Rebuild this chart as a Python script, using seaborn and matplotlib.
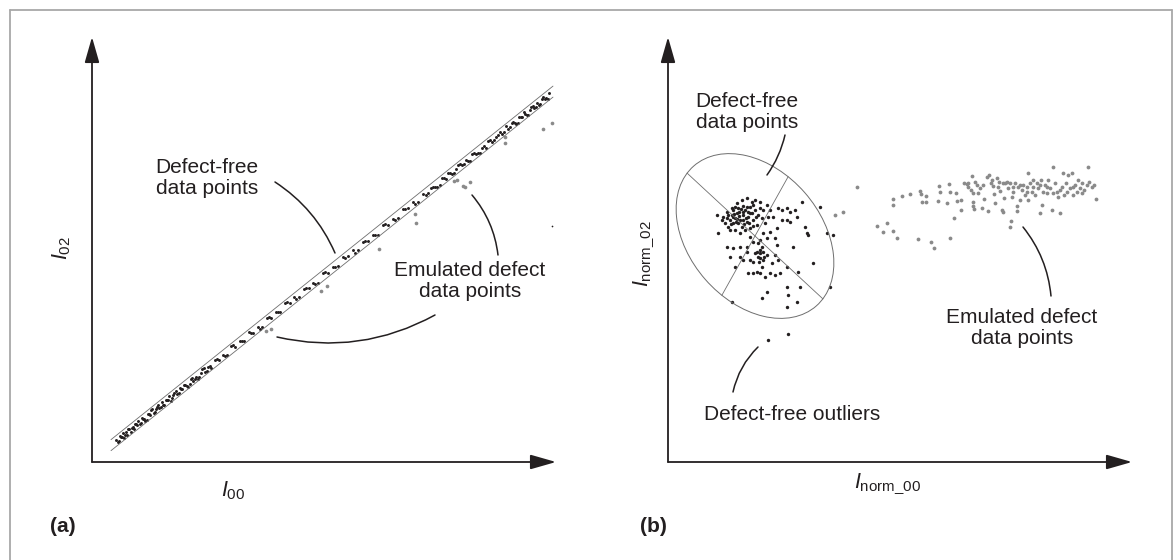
import numpy as np
import matplotlib
matplotlib.use("Agg")
import matplotlib.pyplot as plt
import seaborn as sns
from matplotlib.patches import Ellipse
from matplotlib.lines import Line2D

# ---------------- data (arbitrary units) ----------------
# panel (a): I00 vs I02, defect-free points along the band
a_free_x1 = [24, 27, 29, 31, 33, 35, 37, 40, 42, 44, 46, 49, 51, 53, 56, 58, 60, 63, 65, 67,
             70, 72, 75, 77, 80, 82, 85, 88, 90, 93, 96, 99, 101, 104, 107, 110, 113, 116, 119,
             123, 127, 131, 135, 139, 143, 148, 152, 157, 161, 166, 170, 175, 179, 184, 188, 193,
             198, 202, 207, 212, 217, 221, 226, 231, 236, 241, 246, 251, 256, 261, 266, 271, 276,
             281, 286, 291, 296, 301, 306, 311, 316, 321, 326,
             331, 336, 341, 345, 350, 354, 358, 362, 366, 370, 374, 378, 382, 386, 390, 394, 398,
             402, 406, 410, 414, 418, 421, 424, 427, 430, 433, 436, 439, 442, 445, 448, 451, 454, 457]
a_free_y1 = [22.3, 21.2, 25.3, 29.4, 27.0, 26.6, 33.2, 33.6, 32.7, 37.8, 40.9, 39.3, 42.9, 41.0,
             48.4, 47.5, 52.6, 50.0, 54.6, 54.2, 60.1, 56.7, 62.1, 66.2, 64.1, 68.7, 67.6, 74.0,
             73.1, 77.0, 75.4, 83.3, 81.4, 85.3, 85.2, 92.6, 90.5, 95.4, 94.3,
             102.0, 102.2, 106.9, 107.1, 115.8, 115.5, 121.5, 121.2, 129.7, 128.9, 134.9, 134.6,
             143.6, 143.8, 149.8, 150.0, 159.0, 159.5, 164.7, 164.7, 173.2, 174.2, 178.9, 179.4,
             188.9, 188.9, 195.4, 196.4, 205.4, 205.9, 211.9, 211.9, 220.4, 221.4, 226.9, 227.4,
             236.9, 236.9, 243.4, 244.4, 253.4, 253.9, 259.9, 259.9,
             268.4, 269.4, 274.9, 274.6, 284.1, 283.3, 289.0, 289.2, 297.4, 297.1, 302.3, 301.5,
             309.2, 309.4, 314.1, 313.8, 322.5, 321.7, 327.4, 327.6, 335.8, 335.5, 339.9, 338.3,
             345.2, 344.6, 348.5, 347.4, 355.3, 353.7, 358.6, 358.0, 365.4, 364.3, 368.7]
a_free_x2 = [25.5, 28, 30, 32, 34, 36, 38.5, 41, 43, 45, 47.5, 50, 52, 54.5, 57, 59, 61.5, 64,
             66, 68.5, 71, 73.5, 76, 78.5, 81, 83.5, 86.5, 89, 91.5, 94.5, 97.5, 100, 102.5,
             105.5, 108.5, 111.5, 114.5, 117.5,
             125, 133, 141, 150, 159, 168, 177, 186, 195, 204, 214, 223, 233, 243, 253, 263, 273,
             283, 293, 303, 313, 323,
             333.5, 338.5, 343, 347.5, 352, 356, 360, 364, 368, 372, 376, 380, 384, 388, 392, 396,
             400, 404, 408, 412, 416, 419.5, 422.5, 425.5, 428.5, 431.5, 434.5, 437.5, 440.5,
             443.5, 446.5, 449.5, 452.5, 455.5]
a_free_y2 = [20.5, 26.0, 25.1, 24.2, 29.8, 33.4, 30.4, 34.9, 38.5, 36.6, 38.1, 43.6, 42.7, 42.2,
             48.2, 51.8, 48.8, 53.3, 56.9, 55.4, 56.9, 62.4, 61.9, 61.4, 67.4, 71.4, 68.8, 73.3,
             77.3, 76.2, 78.1, 83.6, 83.1, 83.0, 89.4, 93.8, 91.2, 96.1,
             102.6, 106.0, 116.9, 120.6, 129.3, 133.5, 144.7, 149.9, 159.6, 163.3, 173.8, 178.0,
             190.5, 195.0, 204.5, 209.5, 221.5, 227.5, 238.0, 242.5, 253.0, 258.0,
             266.9, 274.4, 275.5, 276.6, 284.2, 289.4, 287.6, 293.3, 298.5, 298.2, 300.9, 307.6,
             308.3, 309.0, 316.2, 321.4, 319.6, 325.3, 330.5, 330.2, 332.9, 339.2, 339.1, 339.0,
             345.4, 349.8, 347.2, 352.1, 356.5, 355.4, 357.3, 363.2, 363.1, 363.0]
a_defect = [(451, 333), (460, 339), (413, 325), (413, 319), (365, 282), (362, 281), (378, 280),
            (371, 276), (373, 275), (323, 248), (324, 239), (287, 213), (229, 171), (235, 176),
            (174, 131), (179, 133)]
a_stray = [(460, 236)]

# panel (b): I_norm_00 vs I_norm_02
b_free = [
    (55, 245), (59, 250), (62, 242), (64, 247), (65, 239), (67, 244), (69, 249), (70, 254),
    (72, 242), (74, 235), (75, 247), (77, 252), (79, 240), (80, 245), (82, 255), (84, 249),
    (85, 242), (87, 252), (89, 237), (90, 247), (92, 254), (94, 244), (74, 262), (79, 264),
    (84, 260), (69, 259), (64, 254), (60, 235), (67, 232), (72, 229), (77, 232), (82, 234),
    (54, 242), (57, 239), (62, 232), (65, 252), (75, 242), (70, 239), (80, 250), (85, 257),
    (92, 260), (95, 252), (99, 257), (100, 245), (97, 239), (102, 252), (49, 247), (50, 229),
    (82, 249), (65, 245), (68, 240), (71, 246), (75, 250), (78, 244), (66, 248), (69, 243),
    (73, 253), (76, 238), (79, 255), (63, 238), (59, 244), (88, 245), (85, 236), (81, 239),
    (75, 256), (71, 250), (67, 255), (60, 247), (87, 262),
    (105, 245), (110, 254), (114, 252), (119, 254), (122, 250), (127, 252), (134, 260),
    (129, 245), (119, 242), (122, 240), (109, 234), (102, 230), (99, 224), (92, 222), (95, 229),
    (82, 225), (85, 220), (90, 219), (79, 215), (72, 205), (75, 202), (82, 202), (85, 200),
    (92, 204), (95, 202), (90, 205), (87, 209), (92, 209), (99, 207), (107, 207), (110, 202),
    (104, 199), (94, 195), (89, 190), (92, 189), (85, 189), (80, 189), (97, 185), (102, 189),
    (107, 187), (112, 189), (119, 195), (130, 190), (139, 229), (140, 227), (145, 199),
    (165, 227), (159, 229), (152, 255), (137, 235), (132, 175), (119, 175), (120, 167),
    (129, 160), (99, 170), (94, 164), (64, 160), (119, 155), (59, 215), (65, 214), (72, 215),
    (62, 205), (67, 195), (92, 212), (95, 210), (89, 210), (96, 205), (91, 200), (94, 215),
    (79, 210), (109, 217), (114, 242), (107, 224), (125, 215), (162, 175),
    (100, 122), (120, 128)]
b_defect = [
    (175, 250), (167, 247), (189, 275), (209, 236), (219, 239), (215, 230), (225, 231), (229, 224),
    (225, 257), (225, 263), (234, 266), (242, 268), (252, 271), (253, 268), (258, 266),
    (254, 260), (258, 260), (250, 223), (263, 220), (266, 214), (282, 224), (286, 244),
    (270, 261), (271, 276), (272, 270), (279, 259), (281, 278), (282, 270), (288, 269),
    (289, 261), (293, 262), (296, 279), (299, 278), (300, 275), (303, 272), (305, 269),
    (304, 286), (305, 260), (305, 256), (306, 253), (309, 277), (310, 269), (312, 274),
    (314, 254), (316, 263), (319, 285), (321, 287), (320, 251), (323, 279), (325, 276),
    (326, 268), (327, 259), (329, 284), (331, 280), (332, 271), (334, 252), (335, 250),
    (336, 264), (337, 279), (339, 280), (340, 274), (342, 279), (342, 235), (343, 241),
    (344, 265), (345, 270), (347, 279), (349, 256), (349, 251), (350, 275), (352, 262),
    (354, 272), (355, 277), (357, 267), (359, 275), (360, 289), (360, 262), (362, 279),
    (364, 270), (365, 275), (367, 267), (369, 279), (370, 274), (372, 249), (373, 282),
    (374, 257), (375, 270), (377, 277), (379, 269), (380, 282), (382, 274), (384, 252),
    (385, 295), (385, 269), (387, 279), (389, 270), (390, 265), (392, 249), (394, 275),
    (395, 289), (396, 267), (398, 279), (399, 270), (400, 287), (402, 274), (404, 289),
    (405, 267), (407, 277), (409, 270), (410, 282), (412, 274), (414, 269), (416, 272),
    (419, 277), (420, 295), (421, 280), (424, 275), (426, 277), (428, 263),
    (300, 279), (307, 280), (315, 277), (324, 282), (330, 275), (335, 279), (345, 275),
    (352, 277), (359, 270), (365, 282), (372, 277), (379, 275), (392, 272), (405, 275),
    (414, 279), (293, 252)]

# defect-free acceptance region in panel (b)
ellipse_center = (87, 226)
ellipse_semi_axes = (93, 66)
ellipse_angle = -48.8          # degrees, major axis
chord_angles = (-42.8, 60.8)   # degrees, the two dividing chords

# ---------------- styling ----------------
INK = "#231f20"
GREY_PT = "#8a8a8a"
THIN = "#6e6e6e"
FRAME = "#a8a8a8"

sns.set_theme(style="white")
plt.rcParams["font.family"] = ["Liberation Sans", "DejaVu Sans"]
plt.rcParams["mathtext.fontset"] = "custom"
plt.rcParams["mathtext.rm"] = "Liberation Sans"
plt.rcParams["mathtext.it"] = "Liberation Sans:italic"
plt.rcParams["mathtext.bf"] = "Liberation Sans:bold"

W, H = 1174, 560
fig = plt.figure(figsize=(W / 100, H / 100), dpi=100)
fig.patch.set_facecolor("white")


def px_axes(x0, x1, y_top, y_bot):
    return fig.add_axes([x0 / W, 1 - y_bot / H, (x1 - x0) / W, (y_bot - y_top) / H])


ax_a = px_axes(92, 556, 37, 462)
ax_b = px_axes(668, 1132, 37, 462)

arrow_kw = dict(arrowstyle="-|>,head_length=1.05,head_width=0.3", mutation_scale=15,
                lw=1.3, color=INK, shrinkA=0, shrinkB=0)
for ax in (ax_a, ax_b):
    ax.set_xticks([])
    ax.set_yticks([])
    for s in ax.spines.values():
        s.set_visible(False)
    ax.patch.set_alpha(0)
    ax.annotate("", xy=(1, 0), xytext=(0, 0), xycoords="axes fraction",
                textcoords="axes fraction", arrowprops=arrow_kw)
    ax.annotate("", xy=(0, 1), xytext=(0, 0), xycoords="axes fraction",
                textcoords="axes fraction", arrowprops=arrow_kw)

# ---- panel (a)
a_free_x = a_free_x1 + a_free_x2
a_free_y = a_free_y1 + a_free_y2
coef = np.polyfit(a_free_x, a_free_y, 1)
xs = np.array([min(a_free_x) - 5, max(a_free_x) + 4])
for off in (-5.5, 5.5):
    ax_a.plot(xs, np.polyval(coef, xs) + off, color=THIN, lw=0.6)
sns.scatterplot(x=a_free_x, y=a_free_y, ax=ax_a, color=INK, s=4.5, linewidth=0, legend=False)
dx, dy = zip(*a_defect)
sns.scatterplot(x=list(dx), y=list(dy), ax=ax_a, color=GREY_PT, s=7, linewidth=0, legend=False)
sx, sy = zip(*a_stray)
sns.scatterplot(x=list(sx), y=list(sy), ax=ax_a, color=INK, s=1.5, linewidth=0, legend=False)

# ---- panel (b)
bx, by = zip(*b_free)
sns.scatterplot(x=list(bx), y=list(by), ax=ax_b, color=INK, s=6, linewidth=0, legend=False)
gx, gy = zip(*b_defect)
sns.scatterplot(x=list(gx), y=list(gy), ax=ax_b, color=GREY_PT, s=7.5, linewidth=0, legend=False)

ea, eb = ellipse_semi_axes
cx, cy = ellipse_center
ax_b.add_patch(Ellipse((cx, cy), 2 * ea, 2 * eb, angle=ellipse_angle,
                       fill=False, ec=THIN, lw=0.7))


def chord(theta_deg):
    phi = np.radians(theta_deg - ellipse_angle)
    r = ea * eb / np.hypot(eb * np.cos(phi), ea * np.sin(phi))
    t = np.radians(theta_deg)
    return [cx - r * np.cos(t), cx + r * np.cos(t)], [cy - r * np.sin(t), cy + r * np.sin(t)]


for th in chord_angles:
    lx, ly = chord(th)
    ax_b.plot(lx, ly, color=THIN, lw=0.6)

for ax in (ax_a, ax_b):
    ax.set_xlim(0, 464)
    ax.set_ylim(0, 425)

# ---- annotations
FS = 15
txt_kw = dict(fontsize=FS, color=INK, ha="center", va="center", linespacing=1.1)
lead_kw = dict(arrowstyle="-", color=INK, lw=1.1, shrinkA=0, shrinkB=0)

ax_a.text(115, 284, "Defect-free\ndata points", **txt_kw)
ax_a.annotate("", xy=(243, 209), xytext=(183, 280),
              arrowprops=dict(connectionstyle="arc3,rad=-0.15", **lead_kw))
ax_a.text(378, 181, "Emulated defect\ndata points", **txt_kw)
ax_a.annotate("", xy=(380, 267), xytext=(406, 207),
              arrowprops=dict(connectionstyle="arc3,rad=0.15", **lead_kw))
ax_a.annotate("", xy=(185, 125), xytext=(343, 147),
              arrowprops=dict(connectionstyle="arc3,rad=-0.19", **lead_kw))

ax_b.text(79, 350, "Defect-free\ndata points", **txt_kw)
ax_b.annotate("", xy=(99, 287), xytext=(117, 327),
              arrowprops=dict(connectionstyle="arc3,rad=-0.1", **lead_kw))
ax_b.text(354, 134, "Emulated defect\ndata points", **txt_kw)
ax_b.annotate("", xy=(383, 166), xytext=(355, 235),
              arrowprops=dict(connectionstyle="arc3,rad=-0.15", **lead_kw))
ax_b.text(124, 48, "Defect-free outliers", **txt_kw)
ax_b.annotate("", xy=(65, 70), xytext=(90, 115),
              arrowprops=dict(connectionstyle="arc3,rad=0.15", **lead_kw))

# ---- axis labels
lab_kw = dict(fontsize=15.5, color=INK, ha="center", va="center")
ax_a.text(0.304, -0.068, r"$I_{00}$", transform=ax_a.transAxes, **lab_kw)
ax_a.text(-0.066, 0.504, r"$I_{02}$", transform=ax_a.transAxes, rotation=90, **lab_kw)
ax_b.text(0.472, -0.052, r"$I_{\mathrm{norm\_00}}$", transform=ax_b.transAxes, **lab_kw)
ax_b.text(-0.05, 0.49, r"$I_{\mathrm{norm\_02}}$", transform=ax_b.transAxes, rotation=90,
          **lab_kw)

fig.text(63 / W, 1 - 526 / H, "(a)", fontsize=15, fontweight="bold", color=INK,
         ha="center", va="center")
fig.text(653 / W, 1 - 526 / H, "(b)", fontsize=15, fontweight="bold", color=INK,
         ha="center", va="center")

# ---- outer frame (open at the bottom)
for xx, yy in (([10, 10], [10, H]), ([10, 1172], [10, 10]), ([1172, 1172], [10, H])):
    fig.add_artist(Line2D([v / W for v in xx], [1 - v / H for v in yy],
                          transform=fig.transFigure, color=FRAME, lw=1.3))

fig.savefig("out.png", dpi=100, facecolor="white")
